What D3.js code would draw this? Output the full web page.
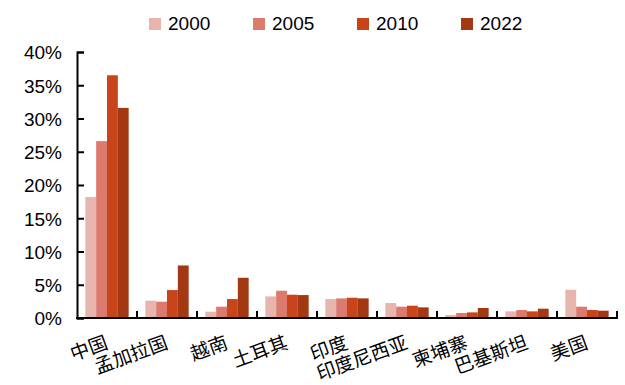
<!DOCTYPE html>
<html>
<head>
<meta charset="utf-8">
<script src="https://cdn.jsdelivr.net/npm/d3@7/dist/d3.min.js"></script>
<style>
  html, body { margin: 0; padding: 0; background: #ffffff; }
  svg { display: block; }
  .num { font-family: "Liberation Sans", Arial, sans-serif; fill: #000; }
  .cat { font-family: "Noto Sans CJK SC", sans-serif; fill: #000; }
</style>
</head>
<body>
<svg id="chart" width="625" height="385"></svg>
<script>
// Share of each country, by year (percent)
const categories = ["中国", "孟加拉国", "越南", "土耳其", "印度", "印度尼西亚", "柬埔寨", "巴基斯坦", "美国"];
const years = ["2000", "2005", "2010", "2022"];
const values2000 = [18.2, 2.6, 0.95, 3.25, 2.85, 2.25, 0.45, 1.0, 4.25];
const values2005 = [26.6, 2.45, 1.7, 4.1, 2.95, 1.7, 0.75, 1.2, 1.7];
const values2010 = [36.5, 4.2, 2.85, 3.5, 3.05, 1.85, 0.85, 1.0, 1.2];
const values2022 = [31.6, 7.9, 6.05, 3.45, 2.95, 1.6, 1.5, 1.4, 1.1];
const yTicks = [0, 5, 10, 15, 20, 25, 30, 35, 40];
const colors = ["#e8b4ae", "#dc7a6d", "#c8451b", "#a33812"];

const seriesValues = [values2000, values2005, values2010, values2022];

const svg = d3.select("#chart");
svg.append("rect").attr("width", 625).attr("height", 385).attr("fill", "#fff");

const plotLeft = 77, plotRight = 617, plotTop = 52, plotBottom = 318;

const x0 = d3.scaleBand().domain(categories).range([plotLeft, plotRight]).padding(0);
const x1 = d3.scaleBand().domain(years).range([0, x0.bandwidth()]).paddingInner(0).paddingOuter(0.77);
const y = d3.scaleLinear().domain([0, 40]).range([plotBottom, plotTop]);
const color = d3.scaleOrdinal().domain(years).range(colors);

// Bars
const groups = svg.append("g").selectAll("g")
  .data(categories)
  .join("g")
  .attr("transform", d => `translate(${x0(d)},0)`);

groups.selectAll("rect")
  .data((c, i) => years.map((yr, k) => ({ year: yr, value: seriesValues[k][i] })))
  .join("rect")
  .attr("x", d => x1(d.year))
  .attr("width", x1.bandwidth())
  .attr("y", d => y(d.value))
  .attr("height", d => y(0) - y(d.value))
  .attr("fill", d => color(d.year));

// Y axis with inward ticks
const yAxis = svg.append("g")
  .attr("transform", `translate(${plotLeft},0)`)
  .call(d3.axisLeft(y).tickValues(yTicks).tickSize(-7).tickPadding(15)
    .tickFormat(d => d + "%"));
yAxis.select(".domain").attr("stroke", "#000").attr("stroke-width", 2);
yAxis.selectAll(".tick line").attr("stroke", "#000").attr("stroke-width", 2);
yAxis.selectAll(".tick text").attr("class", "num").style("font-size", "19px").attr("dy", "0.36em");

// X axis line with ticks at category boundaries
const xAxis = svg.append("g");
xAxis.append("line")
  .attr("x1", plotLeft - 1).attr("x2", plotRight + 1)
  .attr("y1", plotBottom).attr("y2", plotBottom)
  .attr("stroke", "#000").attr("stroke-width", 2);
const boundaries = categories.map(c => x0(c)).concat([x0.range()[1]]);
xAxis.selectAll("line.bt")
  .data(boundaries.slice(1))
  .join("line")
  .attr("class", "bt")
  .attr("x1", d => d).attr("x2", d => d)
  .attr("y1", plotBottom).attr("y2", plotBottom - 7)
  .attr("stroke", "#000").attr("stroke-width", 2);

// Rotated category labels, right end at each category centre
xAxis.selectAll("text.cat")
  .data(categories)
  .join("text")
  .attr("class", "cat")
  .attr("text-anchor", "end")
  .style("font-size", "19px")
  .attr("transform", d => {
    const cx = x0(d) + x0.bandwidth() / 2 + 2;
    return `translate(${cx},348) rotate(-20)`;
  })
  .text(d => d);

// Legend
const legend = svg.append("g");
const legendItem = legend.selectAll("g")
  .data(years)
  .join("g")
  .attr("transform", (d, i) => `translate(${149 + i * 104},0)`);
legendItem.append("rect")
  .attr("x", 0).attr("y", 18).attr("width", 12).attr("height", 12)
  .attr("fill", d => color(d));
legendItem.append("text")
  .attr("class", "num")
  .attr("x", 19).attr("y", 30)
  .style("font-size", "19px")
  .text(d => d);
</script>
</body>
</html>
